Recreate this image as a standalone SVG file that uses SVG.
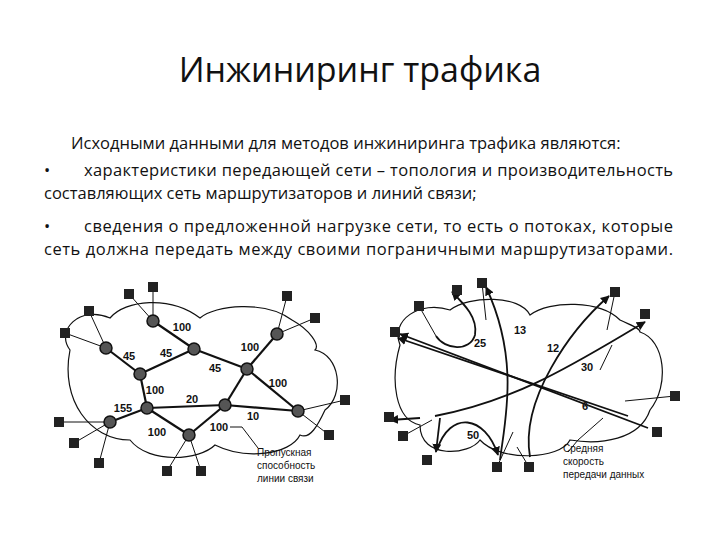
<svg xmlns="http://www.w3.org/2000/svg" width="720" height="540" viewBox="0 0 720 540">
<style>
.t{font-family:"Open Sans","Liberation Sans",sans-serif;fill:#111}
.p{font-size:16.5px}
.n{font-family:"Liberation Sans",Arial,sans-serif;font-size:11px;font-weight:bold;fill:#111}
.s{font-family:"Liberation Sans",Arial,sans-serif;font-size:10px;fill:#111}
.cl{fill:none;stroke:#111;stroke-width:1.2}
.e{stroke:#111;stroke-width:2.2;fill:none}
.ln{stroke:#111;stroke-width:1;fill:none}
.a{stroke:#111;stroke-width:1.8;fill:none;marker-end:url(#ah)}
.rt{fill:#222}
.nd{fill:#555;stroke:#111;stroke-width:1.5}
</style>
<defs>
<marker id="ah" viewBox="0 0 10 10" refX="9" refY="5" markerWidth="5" markerHeight="5" orient="auto-start-reverse"><path d="M0,0L10,5L0,10z" fill="#111"/></marker>
<rect id="sq" x="-5" y="-5" width="10" height="10" fill="#222"/>
</defs>
<rect width="720" height="540" fill="#fff"/>
<text class="t" x="360" y="82" font-size="34" text-anchor="middle">Инжиниринг трафика</text>
<text class="t p" x="71" y="149">Исходными данными для методов инжиниринга трафика являются:</text>
<text class="t p" x="44" y="176">•</text>
<text class="t p" x="84" y="176" textLength="589" lengthAdjust="spacing">характеристики передающей сети – топология и производительность</text>
<text class="t p" x="44" y="199">составляющих сеть маршрутизаторов и линий связи;</text>
<text class="t p" x="44" y="232">•</text>
<text class="t p" x="84" y="232" textLength="589" lengthAdjust="spacing">сведения о предложенной нагрузке сети, то есть о потоках, которые</text>
<text class="t p" x="44" y="255" textLength="629" lengthAdjust="spacing">сеть должна передать между своими пограничными маршрутизаторами.</text>

<g id="left-cloud"><path class="cl" d="M70,350 C55,330 80,305 110,318 C125,300 170,295 200,318 C215,305 265,300 292,320 C310,330 320,345 315,350 C340,355 345,395 325,410 C318,425 310,440 300,435 C290,455 245,460 215,445 C200,460 150,465 130,440 C90,440 60,400 70,350 Z"/></g>
<g id="connectors">
<g class="ln">
<line x1="153" y1="287" x2="153" y2="321"/><line x1="129" y1="294" x2="153" y2="321"/>
<line x1="89" y1="311" x2="106" y2="348"/><line x1="65" y1="333" x2="106" y2="348"/>
<line x1="287" y1="296" x2="277" y2="334"/><line x1="315" y1="318" x2="277" y2="334"/>
<line x1="345" y1="400" x2="298" y2="411"/><line x1="329" y1="435" x2="298" y2="411"/>
<line x1="59" y1="422" x2="110" y2="422"/><line x1="74" y1="443" x2="110" y2="422"/><line x1="99" y1="463" x2="110" y2="422"/>
<line x1="167" y1="471" x2="189" y2="435"/><line x1="201" y1="471" x2="189" y2="435"/>
<polyline points="230,427 242,427 258,448"/>
</g>
<g class="e">
<line x1="153" y1="321" x2="194" y2="349"/><line x1="106" y1="348" x2="140" y2="374"/>
<line x1="140" y1="374" x2="194" y2="349"/><line x1="194" y1="349" x2="247" y2="369"/>
<line x1="247" y1="369" x2="277" y2="334"/><line x1="247" y1="369" x2="298" y2="411"/>
<line x1="140" y1="374" x2="147" y2="408"/><line x1="147" y1="408" x2="225" y2="405"/>
<line x1="225" y1="405" x2="247" y2="369"/><line x1="225" y1="405" x2="298" y2="411"/>
<line x1="110" y1="422" x2="147" y2="408"/><line x1="147" y1="408" x2="189" y2="435"/>
<line x1="189" y1="435" x2="225" y2="405"/>
</g>
</g>
<g id="left-terminals">
<use href="#sq" x="153" y="287"/><use href="#sq" x="129" y="294"/><use href="#sq" x="89" y="311"/><use href="#sq" x="65" y="333"/>
<use href="#sq" x="287" y="296"/><use href="#sq" x="315" y="318"/><use href="#sq" x="345" y="400"/><use href="#sq" x="329" y="435"/>
<use href="#sq" x="59" y="422"/><use href="#sq" x="74" y="443"/><use href="#sq" x="99" y="463"/><use href="#sq" x="167" y="471"/><use href="#sq" x="201" y="471"/>
</g>
<g id="left-routers">
<circle class="nd" cx="153" cy="321" r="6"/><circle class="nd" cx="194" cy="349" r="6"/><circle class="nd" cx="106" cy="348" r="6"/>
<circle class="nd" cx="140" cy="374" r="6"/><circle class="nd" cx="247" cy="369" r="6"/><circle class="nd" cx="277" cy="334" r="6"/>
<circle class="nd" cx="147" cy="408" r="6"/><circle class="nd" cx="225" cy="405" r="6"/><circle class="nd" cx="298" cy="411" r="6"/>
<circle class="nd" cx="110" cy="422" r="6"/><circle class="nd" cx="189" cy="435" r="6"/>
</g>
<g id="left-labels">
<text class="n" x="182" y="331" text-anchor="middle">100</text>
<text class="n" x="129" y="360" text-anchor="middle">45</text>
<text class="n" x="166" y="357" text-anchor="middle">45</text>
<text class="n" x="215" y="372" text-anchor="middle">45</text>
<text class="n" x="250" y="351" text-anchor="middle">100</text>
<text class="n" x="278" y="387" text-anchor="middle">100</text>
<text class="n" x="155" y="394" text-anchor="middle">100</text>
<text class="n" x="123" y="412" text-anchor="middle">155</text>
<text class="n" x="192" y="403" text-anchor="middle">20</text>
<text class="n" x="253" y="420" text-anchor="middle">10</text>
<text class="n" x="157" y="436" text-anchor="middle">100</text>
<text class="n" x="219" y="431" text-anchor="middle">100</text>
<text class="s" x="257" y="456">Пропускная</text>
<text class="s" x="257" y="469">способность</text>
<text class="s" x="257" y="482">линии связи</text>
</g>

<g id="right-cloud"><path class="cl" d="M400,345 C390,320 420,300 450,310 C470,295 520,295 530,315 C550,300 600,300 620,320 C630,325 640,328 640,332 C665,340 670,385 650,410 C640,440 600,445 570,440 C560,460 500,462 480,440 C470,455 420,460 420,425 C395,420 390,380 400,345 Z"/></g>
<g id="right-flows">
<g class="ln">
<line x1="419" y1="306" x2="436" y2="336"/><line x1="482" y1="283" x2="486" y2="320"/>
<line x1="615" y1="292" x2="607" y2="330"/><line x1="675" y1="396" x2="625" y2="401"/>
<line x1="403" y1="436" x2="432" y2="420"/><line x1="529" y1="467" x2="517" y2="447"/>
<line x1="497" y1="467" x2="513" y2="432"/><line x1="600" y1="370" x2="612" y2="345"/>
<polyline points="603,418 578,440 568,452"/>
</g>
<path class="a" d="M436,336 C445,350 470,352 475,335 C478,318 465,305 452,292"/>
<path class="a" d="M648,428 L400,334"/>
<path class="a" d="M628,416 L398,338"/>
<path class="a" d="M500,460 C505,420 520,360 486,287"/>
<path class="a" d="M435,416 C520,400 580,360 645,322"/>
<line class="a" x1="420" y1="418" x2="390" y2="420"/>
<path class="a" d="M530,457 C520,400 570,330 609,296"/>
<path class="a" d="M440,418 L436,452"/>
<path class="a" d="M437,450 C450,410 485,415 498,455"/>
<text class="n" x="480" y="347" text-anchor="middle">25</text>
<text class="n" x="520" y="334" text-anchor="middle">13</text>
<text class="n" x="553" y="352" text-anchor="middle">12</text>
<text class="n" x="587" y="371" text-anchor="middle">30</text>
<text class="n" x="585" y="410" text-anchor="middle">6</text>
<text class="n" x="473" y="439" text-anchor="middle">50</text>
<text class="s" x="563" y="452">Средняя</text>
<text class="s" x="563" y="465">скорость</text>
<text class="s" x="563" y="478">передачи данных</text>
</g>
<g id="right-terminals">
<use href="#sq" x="482" y="283"/><use href="#sq" x="457" y="290"/><use href="#sq" x="419" y="306"/><use href="#sq" x="395" y="332"/>
<use href="#sq" x="615" y="292"/><use href="#sq" x="645" y="314"/><use href="#sq" x="675" y="396"/><use href="#sq" x="657" y="432"/>
<use href="#sq" x="389" y="417"/><use href="#sq" x="403" y="436"/><use href="#sq" x="427" y="460"/><use href="#sq" x="497" y="467"/><use href="#sq" x="529" y="467"/>
</g>
</svg>
